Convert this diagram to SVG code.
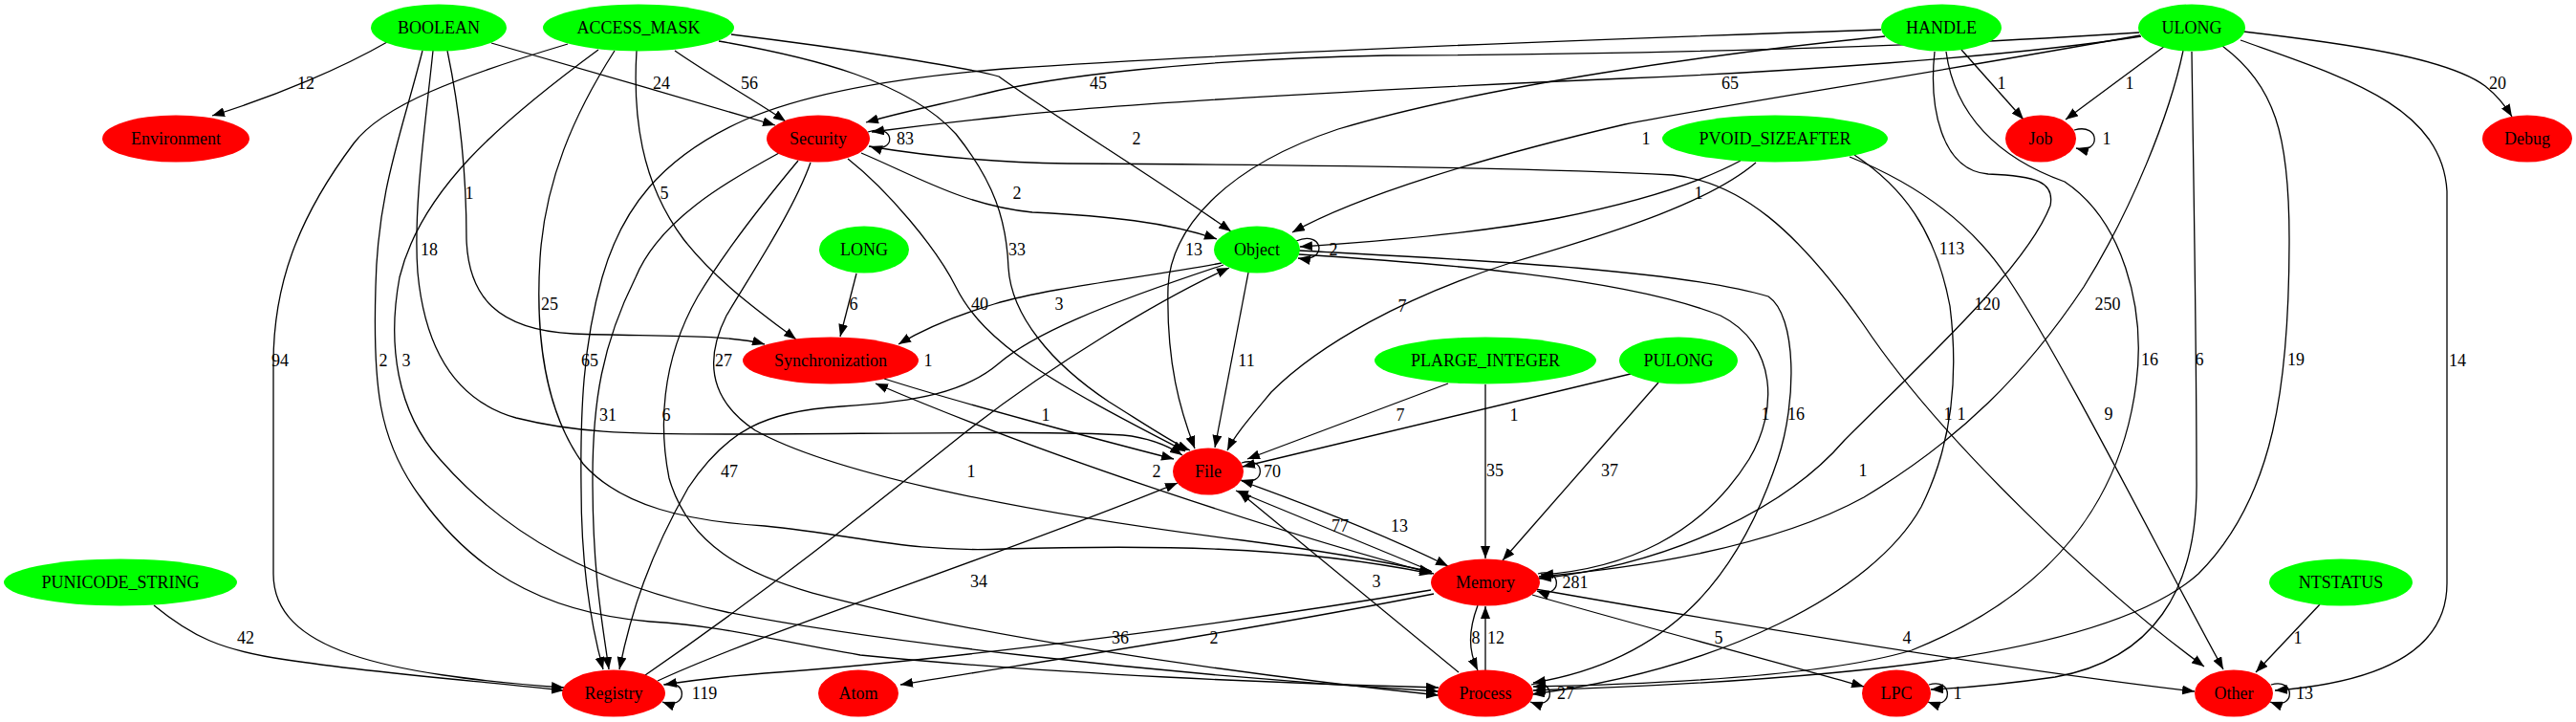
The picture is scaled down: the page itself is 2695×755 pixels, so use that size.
<svg xmlns="http://www.w3.org/2000/svg" width="2695" height="755" viewBox="0 0 2695 755">
<defs>
<marker id="a" markerWidth="13" markerHeight="10" refX="13" refY="5" orient="auto" markerUnits="userSpaceOnUse"><path d="M0,0 L13,5 L0,10 z" fill="#000"/></marker>
<style>
.g{fill:#00ff00}
.r{fill:#ff0000}
text{font-family:"Liberation Serif","Times New Roman",serif;font-size:18px;fill:#000}
.n text{text-anchor:middle}
.e path{fill:none;stroke:#000;stroke-width:1.3;marker-end:url(#a)}
.l text{text-anchor:middle}
</style>
</defs>
<rect width="2695" height="755" fill="#fff"/>
<g id="edges" class="e">
<path d="M405,44 C360,70 290,100 222,121"/>
<path d="M514,45 C600,70 720,104 811,131"/>
<path d="M706,53 C745,80 790,105 822,127"/>
<path d="M468,53 C482,120 488,190 488,250 C490,310 520,345 600,349 C680,352 760,349 800,360"/>
<path d="M666,53 C662,120 670,190 715,250 C750,295 800,330 833,355"/>
<path d="M453,53 C445,130 432,220 437,285 C445,370 480,420 540,437 C600,452 650,454 760,454 C900,454 1100,450 1175,455 C1205,458 1225,468 1237,476"/>
<path d="M442,53 C420,140 395,200 393,300 C390,400 395,460 440,520 C490,590 560,640 680,650 C760,655 800,668 900,685 C1100,705 1350,715 1505,719"/>
<path d="M626,52 C520,130 440,200 418,290 C405,360 415,430 460,480 C530,560 620,610 760,640 C900,668 1200,705 1505,723"/>
<path d="M594,46 C480,80 400,110 370,150 C310,230 286,300 286,380 L286,600 C286,680 400,705 590,719"/>
<path d="M643,53 C600,120 570,190 565,270 C560,350 570,430 610,485 C650,530 720,545 800,550 C900,560 950,578 1050,574 C1200,570 1350,570 1498,600"/>
<path d="M752,43 C850,60 950,85 1000,140 C1040,190 1053,230 1055,280 C1058,330 1100,380 1160,420 C1200,445 1230,465 1245,471"/>
<path d="M765,36 C880,50 1010,70 1045,80 C1100,120 1200,180 1288,242"/>
<path d="M908,138 C938,128 938,162 910,153"/>
<path d="M901,160 C960,185 1010,215 1080,222 C1160,226 1220,232 1273,250"/>
<path d="M909,153 C980,165 1050,170 1117,171 C1300,172 1600,175 1750,183 C1820,190 1880,240 1950,340 C2030,460 2200,620 2306,697"/>
<path d="M815,160 C760,190 690,230 665,290 C630,360 620,420 620,500 C620,600 630,650 637,700"/>
<path d="M1968,31 C1700,40 1300,55 1050,72 C950,80 850,95 780,125 C690,165 650,220 630,290 C610,360 607,430 608,510 C608,600 620,660 631,700"/>
<path d="M835,168 C800,210 760,260 730,310 C690,380 690,450 700,500 C720,570 780,600 850,620 C1000,660 1250,700 1505,727"/>
<path d="M848,170 C830,220 790,280 760,330 C735,380 745,420 790,450 C880,500 1100,540 1300,565 C1400,578 1460,590 1498,598"/>
<path d="M887,166 C930,200 980,260 1000,300 C1030,360 1100,400 1240,472"/>
<path d="M1278,275 C1200,290 1100,300 1040,318 C1000,330 965,345 940,360"/>
<path d="M1280,277 C1150,320 1080,350 1045,380 C1010,410 960,420 880,425 C800,430 760,450 720,510 C680,580 660,640 648,700"/>
<path d="M675,706 C800,620 900,540 1000,460 C1100,380 1220,310 1286,280"/>
<path d="M688,712 C800,660 1050,580 1232,505"/>
<path d="M925,396 C1000,420 1150,460 1228,480"/>
<path d="M1500,600 C1350,560 1100,480 916,401"/>
<path d="M896,286 L879,352"/>
<path d="M1306,285 L1271,468"/>
<path d="M1356,252 C1385,240 1390,275 1358,270"/>
<path d="M1972,38 C1800,55 1550,90 1400,135 C1280,175 1225,240 1222,300 C1220,380 1235,430 1250,469"/>
<path d="M2239,37 C2000,80 1800,110 1700,130 C1550,165 1420,205 1352,243"/>
<path d="M2238,34 C2000,50 1700,57 1450,58 C1250,62 1100,80 1030,98 C980,110 940,118 906,128"/>
<path d="M2240,38 C2100,60 1850,76 1700,82 C1400,95 1150,110 1050,122 C990,128 950,133 912,138"/>
<path d="M2265,48 L2161,125"/>
<path d="M2052,52 L2117,125"/>
<path d="M2170,136 C2198,128 2198,162 2172,155"/>
<path d="M2347,33 C2450,45 2560,60 2600,90 C2615,102 2622,112 2628,122"/>
<path d="M2344,42 C2450,80 2555,110 2560,200 L2560,610 C2560,690 2470,715 2380,722"/>
<path d="M2325,48 C2380,90 2395,140 2395,250 C2395,400 2380,520 2300,600 C2200,690 1900,712 1604,722"/>
<path d="M2293,54 C2295,200 2298,350 2298,500 C2300,620 2250,690 2150,708 C2080,718 2040,720 2020,721"/>
<path d="M2284,53 C2270,120 2230,220 2180,300 C2120,390 2050,460 1950,520 C1850,575 1700,595 1610,603"/>
<path d="M2024,54 C2018,110 2030,178 2080,182 C2130,184 2150,190 2145,215 C2120,280 2010,380 1930,460 C1870,530 1750,590 1610,605"/>
<path d="M2036,54 C2045,120 2090,165 2160,190 C2220,230 2245,320 2235,400 C2220,520 2150,620 2000,680 C1900,710 1700,716 1604,718"/>
<path d="M1935,164 C2000,190 2060,230 2100,290 C2160,380 2260,580 2326,700"/>
<path d="M1940,162 C1990,195 2025,240 2040,320 C2050,400 2040,470 2010,530 C1960,620 1800,700 1603,726"/>
<path d="M1821,168 C1780,190 1720,210 1630,228 C1550,243 1450,252 1360,258"/>
<path d="M1837,170 C1790,210 1700,240 1580,275 C1470,310 1380,360 1330,410 C1305,440 1292,455 1284,471"/>
<path d="M1359,266 C1500,275 1700,290 1800,330 C1860,360 1860,430 1830,480 C1780,560 1700,595 1612,601"/>
<path d="M1359,262 C1500,270 1750,280 1850,310 C1880,330 1880,420 1860,480 C1820,600 1750,690 1604,714"/>
<path d="M1515,401 L1305,480"/>
<path d="M1710,390 L1300,488"/>
<path d="M1554,402 L1554,584"/>
<path d="M1735,400 L1572,586"/>
<path d="M1299,484 C1325,476 1325,510 1298,502"/>
<path d="M1299,503 C1360,525 1440,555 1515,592"/>
<path d="M1497,597 L1293,513"/>
<path d="M1526,703 L1296,514"/>
<path d="M1497,617 C1300,650 1000,690 800,704 C750,708 720,712 695,716"/>
<path d="M1500,621 C1300,660 1100,690 942,716"/>
<path d="M1603,622 C1700,650 1850,690 1950,718"/>
<path d="M1606,616 C1800,650 2100,700 2296,723"/>
<path d="M1546,633 C1536,660 1536,680 1546,701"/>
<path d="M1554,701 L1554,634"/>
<path d="M1609,600 C1635,592 1635,628 1608,618"/>
<path d="M1602,716 C1628,708 1628,744 1601,734"/>
<path d="M694,716 C720,708 720,744 693,734"/>
<path d="M2018,716 C2044,708 2044,744 2017,734"/>
<path d="M2376,716 C2402,708 2402,744 2375,734"/>
<path d="M2427,632 L2360,703"/>
<path d="M161,633 C200,665 230,680 300,690 C400,705 500,712 590,722"/>
</g>
<g id="labels" class="l">
<text x="320" y="93">12</text>
<text x="692" y="93">24</text>
<text x="784" y="93">56</text>
<text x="1149" y="93">45</text>
<text x="1810" y="93">65</text>
<text x="2094" y="93">1</text>
<text x="2228" y="93">1</text>
<text x="2613" y="93">20</text>
<text x="947" y="151">83</text>
<text x="1189" y="151">2</text>
<text x="1722" y="151">1</text>
<text x="2204" y="151">1</text>
<text x="491" y="208">1</text>
<text x="695" y="208">5</text>
<text x="1064" y="208">2</text>
<text x="1777" y="208">1</text>
<text x="449" y="267">18</text>
<text x="1064" y="267">33</text>
<text x="1249" y="267">13</text>
<text x="1395" y="267">2</text>
<text x="2042" y="266">113</text>
<text x="575" y="324">25</text>
<text x="893" y="324">6</text>
<text x="1025" y="324">40</text>
<text x="1108" y="324">3</text>
<text x="1467" y="326">7</text>
<text x="2079" y="324">120</text>
<text x="2205" y="324">250</text>
<text x="293" y="383">94</text>
<text x="401" y="383">2</text>
<text x="425" y="383">3</text>
<text x="617" y="383">65</text>
<text x="757" y="383">27</text>
<text x="971" y="383">1</text>
<text x="1304" y="383">11</text>
<text x="2249" y="382">16</text>
<text x="2301" y="382">6</text>
<text x="2402" y="382">19</text>
<text x="2571" y="383">14</text>
<text x="636" y="440">31</text>
<text x="697" y="440">6</text>
<text x="1094" y="440">1</text>
<text x="1465" y="440">7</text>
<text x="1584" y="440">1</text>
<text x="1847" y="439">1</text>
<text x="1879" y="439">16</text>
<text x="2038" y="439">1</text>
<text x="2052" y="439">1</text>
<text x="2206" y="439">9</text>
<text x="763" y="499">47</text>
<text x="1016" y="499">1</text>
<text x="1210" y="499">2</text>
<text x="1331" y="499">70</text>
<text x="1564" y="498">35</text>
<text x="1684" y="498">37</text>
<text x="1949" y="498">1</text>
<text x="1402" y="556">77</text>
<text x="1464" y="556">13</text>
<text x="1024" y="614">34</text>
<text x="1440" y="614">3</text>
<text x="1648" y="615">281</text>
<text x="257" y="673">42</text>
<text x="1172" y="673">36</text>
<text x="1270" y="673">2</text>
<text x="1544" y="673">8</text>
<text x="1565" y="673">12</text>
<text x="1798" y="673">5</text>
<text x="1995" y="673">4</text>
<text x="2404" y="673">1</text>
<text x="737" y="731">119</text>
<text x="1638" y="731">27</text>
<text x="2048" y="731">1</text>
<text x="2411" y="731">13</text>
</g>
<g id="n-BOOLEAN" class="n"><ellipse class="g" cx="459" cy="29" rx="71" ry="24.5"/><text x="459" y="35">BOOLEAN</text></g>
<g id="n-ACCESS_MASK" class="n"><ellipse class="g" cx="668" cy="29" rx="100" ry="24.5"/><text x="668" y="35">ACCESS_MASK</text></g>
<g id="n-HANDLE" class="n"><ellipse class="g" cx="2031" cy="29" rx="63" ry="24.5"/><text x="2031" y="35">HANDLE</text></g>
<g id="n-ULONG" class="n"><ellipse class="g" cx="2293" cy="29" rx="56" ry="24.5"/><text x="2293" y="35">ULONG</text></g>
<g id="n-Environment" class="n"><ellipse class="r" cx="184" cy="145" rx="77" ry="24.5"/><text x="184" y="151">Environment</text></g>
<g id="n-Security" class="n"><ellipse class="r" cx="856" cy="145" rx="54" ry="24.5"/><text x="856" y="151">Security</text></g>
<g id="n-PVOID_SIZEAFTER" class="n"><ellipse class="g" cx="1857" cy="145" rx="118" ry="24.5"/><text x="1857" y="151">PVOID_SIZEAFTER</text></g>
<g id="n-Job" class="n"><ellipse class="r" cx="2135" cy="145" rx="37" ry="24.5"/><text x="2135" y="151">Job</text></g>
<g id="n-Debug" class="n"><ellipse class="r" cx="2644" cy="145" rx="47" ry="24.5"/><text x="2644" y="151">Debug</text></g>
<g id="n-LONG" class="n"><ellipse class="g" cx="904" cy="261" rx="47" ry="24.5"/><text x="904" y="267">LONG</text></g>
<g id="n-Object" class="n"><ellipse class="g" cx="1315" cy="261" rx="45" ry="24.5"/><text x="1315" y="267">Object</text></g>
<g id="n-Synchronization" class="n"><ellipse class="r" cx="869" cy="377" rx="92" ry="24.5"/><text x="869" y="383">Synchronization</text></g>
<g id="n-PLARGE_INTEGER" class="n"><ellipse class="g" cx="1554" cy="377" rx="116" ry="24.5"/><text x="1554" y="383">PLARGE_INTEGER</text></g>
<g id="n-PULONG" class="n"><ellipse class="g" cx="1756" cy="377" rx="62" ry="24.5"/><text x="1756" y="383">PULONG</text></g>
<g id="n-File" class="n"><ellipse class="r" cx="1264" cy="493" rx="37" ry="24.5"/><text x="1264" y="499">File</text></g>
<g id="n-PUNICODE_STRING" class="n"><ellipse class="g" cx="126" cy="609" rx="122" ry="24.5"/><text x="126" y="615">PUNICODE_STRING</text></g>
<g id="n-Memory" class="n"><ellipse class="r" cx="1554" cy="609" rx="57" ry="24.5"/><text x="1554" y="615">Memory</text></g>
<g id="n-NTSTATUS" class="n"><ellipse class="g" cx="2449" cy="609" rx="75" ry="24.5"/><text x="2449" y="615">NTSTATUS</text></g>
<g id="n-Registry" class="n"><ellipse class="r" cx="642" cy="725" rx="54" ry="24.5"/><text x="642" y="731">Registry</text></g>
<g id="n-Atom" class="n"><ellipse class="r" cx="898" cy="725" rx="42" ry="24.5"/><text x="898" y="731">Atom</text></g>
<g id="n-Process" class="n"><ellipse class="r" cx="1554" cy="725" rx="50" ry="24.5"/><text x="1554" y="731">Process</text></g>
<g id="n-LPC" class="n"><ellipse class="r" cx="1984" cy="725" rx="36" ry="24.5"/><text x="1984" y="731">LPC</text></g>
<g id="n-Other" class="n"><ellipse class="r" cx="2337" cy="725" rx="41" ry="24.5"/><text x="2337" y="731">Other</text></g>
</svg>
